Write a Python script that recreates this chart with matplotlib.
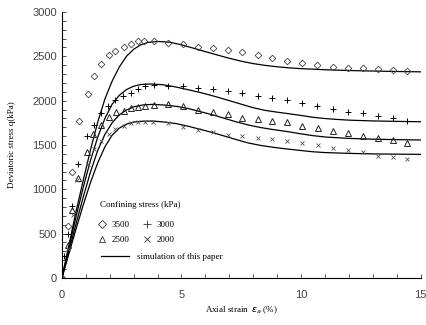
import matplotlib
matplotlib.use("Agg")
import matplotlib.pyplot as plt
from matplotlib.lines import Line2D
from matplotlib.ticker import MultipleLocator

# measured points (axial strain %, deviatoric stress kPa)
strain_3500 = [0.0, 0.24, 0.41, 0.71, 1.07, 1.33, 1.65, 1.95, 2.2, 2.58, 2.87, 3.18, 3.44, 3.84,
               4.44, 5.06, 5.68, 6.31, 6.93, 7.55, 8.18, 8.80, 9.42, 10.05, 10.67, 11.33,
               11.96, 12.58, 13.2, 13.83, 14.45]
q_3500 = [0, 580, 1190, 1775, 2078, 2280, 2415, 2515, 2563, 2610, 2640, 2675, 2672, 2670,
          2646, 2635, 2608, 2592, 2570, 2544, 2514, 2477, 2446, 2420, 2401, 2382,
          2371, 2364, 2356, 2345, 2334]

strain_3000 = [0.0, 0.1, 0.24, 0.41, 0.69, 1.06, 1.33, 1.64, 1.94, 2.2, 2.57, 2.87, 3.18, 3.46, 3.84,
               4.44, 5.06, 5.68, 6.31, 6.93, 7.55, 8.18, 8.80, 9.42, 10.05, 10.67, 11.32,
               11.96, 12.58, 13.2, 13.83, 14.45]
q_3000 = [0, 250, 500, 810, 1282, 1601, 1720, 1857, 1945, 2007, 2052, 2090, 2135, 2165, 2182,
          2164, 2168, 2146, 2131, 2108, 2082, 2056, 2033, 2007, 1977, 1939, 1905,
          1875, 1857, 1826, 1800, 1773]

strain_2500 = [0.0, 0.24, 0.44, 0.69, 1.03, 1.31, 1.65, 1.96, 2.28, 2.58, 2.90, 3.18, 3.48, 3.84,
               4.44, 5.06, 5.68, 6.31, 6.93, 7.55, 8.18, 8.80, 9.42, 10.05, 10.70, 11.33,
               11.96, 12.58, 13.2, 13.83, 14.45]
q_2500 = [0, 370, 770, 1130, 1424, 1620, 1725, 1812, 1868, 1883, 1913, 1932, 1940, 1952,
          1958, 1939, 1894, 1875, 1849, 1800, 1789, 1773, 1755, 1717, 1688, 1661,
          1631, 1601, 1582, 1556, 1525]

strain_2000 = [0.0, 0.24, 0.48, 0.64, 1.07, 1.35, 1.65, 1.96, 2.24, 2.58, 2.90, 3.18, 3.48, 3.81,
               4.44, 5.06, 5.68, 6.31, 6.93, 7.55, 8.18, 8.80, 9.42, 10.05, 10.70, 11.33,
               11.96, 12.58, 13.2, 13.83, 14.45]
q_2000 = [0, 330, 710, 1100, 1282, 1451, 1548, 1620, 1676, 1717, 1744, 1762, 1762, 1762,
          1744, 1706, 1669, 1643, 1612, 1604, 1582, 1564, 1545, 1519, 1500, 1469,
          1443, 1421, 1379, 1361, 1345]

# simulation curves
sim_strain_3500 = [0, 0.3, 0.6, 0.9, 1.2, 1.5, 1.8, 2.1, 2.4, 2.7, 3.0, 3.3, 3.6, 4.0, 4.5, 5.0,
                   5.5, 6.0, 6.5, 7.0, 7.5, 8.0, 8.5, 9.0, 9.5, 10, 11, 12, 13, 14, 15]
sim_q_3500 = [0, 380, 760, 1110, 1450, 1760, 2020, 2220, 2380, 2500, 2580, 2630, 2657, 2668,
              2660, 2630, 2592, 2553, 2515, 2478, 2445, 2418, 2398, 2382, 2370, 2361, 2349,
              2340, 2334, 2329, 2325]

sim_strain_3000 = [0, 0.3, 0.6, 0.9, 1.2, 1.5, 1.8, 2.1, 2.4, 2.7, 3.0, 3.3, 3.7, 4.2, 4.7, 5.0,
                   5.5, 6.0, 6.5, 7.0, 7.5, 8.0, 8.5, 9.0, 9.5, 10.0, 10.5, 11.0, 11.5, 12.0,
                   13.0, 14.0, 15.0]
sim_q_3000 = [0, 350, 700, 1030, 1330, 1590, 1800, 1960, 2060, 2125, 2163, 2182, 2188, 2180,
              2158, 2140, 2110, 2077, 2040, 2000, 1960, 1920, 1890, 1870, 1852, 1833, 1812,
              1798, 1788, 1780, 1771, 1766, 1762]

sim_strain_2500 = [0, 0.3, 0.6, 0.9, 1.2, 1.5, 1.8, 2.1, 2.4, 2.7, 3.0, 3.4, 3.8, 4.3, 4.8, 5.3,
                   5.8, 6.3, 6.8, 7.3, 7.8, 8.3, 8.8, 9.5, 10.0, 10.5, 11, 12, 13, 14, 15]
sim_q_2500 = [0, 310, 620, 920, 1200, 1440, 1620, 1750, 1840, 1895, 1930, 1952, 1958, 1950,
              1935, 1910, 1875, 1840, 1800, 1760, 1725, 1697, 1675, 1648, 1625, 1605, 1590,
              1574, 1565, 1560, 1556]

sim_strain_2000 = [0, 0.3, 0.6, 0.9, 1.2, 1.5, 1.8, 2.1, 2.4, 2.7, 3.0, 3.4, 3.8, 4.3, 4.8, 5.3,
                   5.8, 6.3, 6.8, 7.3, 7.8, 8.3, 8.8, 9.3, 9.8, 10.5, 11, 12, 13, 14, 15]
sim_q_2000 = [0, 280, 560, 830, 1080, 1300, 1480, 1610, 1690, 1735, 1758, 1768, 1770, 1758,
              1740, 1710, 1675, 1640, 1600, 1560, 1522, 1495, 1475, 1458, 1443, 1423, 1414,
              1405, 1399, 1396, 1394]

serif = "Liberation Serif"
sans = "Liberation Sans"

fig = plt.figure(figsize=(4.27, 3.25), dpi=100)
ax = fig.add_axes([0.145, 0.145, 0.84, 0.818])

for xs, ys in [(sim_strain_3500, sim_q_3500), (sim_strain_3000, sim_q_3000),
               (sim_strain_2500, sim_q_2500), (sim_strain_2000, sim_q_2000)]:
    ax.plot(xs, ys, color="black", lw=0.9)

ax.plot(strain_3500, q_3500, ls="none", marker="D", ms=3.4, mfc="none", mec="#444", mew=0.6)
ax.plot(strain_3000, q_3000, ls="none", marker="+", ms=4.5, mec="black", mew=0.7)
ax.plot(strain_2500, q_2500, ls="none", marker="^", ms=4.4, mfc="none", mec="#222", mew=0.7)
ax.plot(strain_2000, q_2000, ls="none", marker="x", ms=3.2, mec="#555", mew=0.6)

ax.set_xlim(0, 15)
ax.set_ylim(0, 3000)
ax.xaxis.set_major_locator(MultipleLocator(5))
ax.xaxis.set_minor_locator(MultipleLocator(1))
ax.yaxis.set_major_locator(MultipleLocator(500))
ax.yaxis.set_minor_locator(MultipleLocator(100))
ax.tick_params(which="both", direction="in", length=3, width=0.6, color="#333")
ax.tick_params(axis="x", pad=9)
for lab in ax.get_xticklabels() + ax.get_yticklabels():
    lab.set_fontfamily(sans)
    lab.set_fontsize(8)
    lab.set_color("#444")

ax.spines["top"].set_visible(False)
ax.spines["right"].set_visible(False)
ax.spines["left"].set_linewidth(0.8)
ax.spines["bottom"].set_linewidth(0.8)

ax.set_xlabel(r"Axial strain  $\varepsilon_a$ (%)", fontfamily=serif, fontsize=6.5, labelpad=3)
ax.set_ylabel("Deviatoric stress q(kPa)", fontfamily=serif, fontsize=6.5, labelpad=12)

ax.text(0.105, 0.274, "Confining stress (kPa)", transform=ax.transAxes,
        fontfamily=serif, fontsize=6.5, va="center", ha="left")

marker_handles = [
    Line2D([], [], ls="none", marker="D", ms=4.5, mfc="none", mec="#333", mew=0.6),
    Line2D([], [], ls="none", marker="^", ms=5, mfc="none", mec="#333", mew=0.6),
    Line2D([], [], ls="none", marker="+", ms=5.5, mec="#333", mew=0.6),
    Line2D([], [], ls="none", marker="x", ms=4.5, mec="#333", mew=0.6),
]
leg1 = ax.legend(marker_handles, ["3500", "2500", "3000", "2000"], ncol=2,
                 loc="upper left", bbox_to_anchor=(0.085, 0.238), frameon=False,
                 prop={"family": serif, "size": 6.5}, borderpad=0.2,
                 handlelength=0.8, handletextpad=0.6, columnspacing=1.6, labelspacing=0.7)
ax.add_artist(leg1)

ax.legend([Line2D([], [], color="black", lw=0.9)], ["simulation of this paper"],
          loc="upper left", bbox_to_anchor=(0.085, 0.125), frameon=False,
          prop={"family": serif, "size": 6.5}, handlelength=3.2, handletextpad=0.8)

fig.savefig("out.png", dpi=100)
